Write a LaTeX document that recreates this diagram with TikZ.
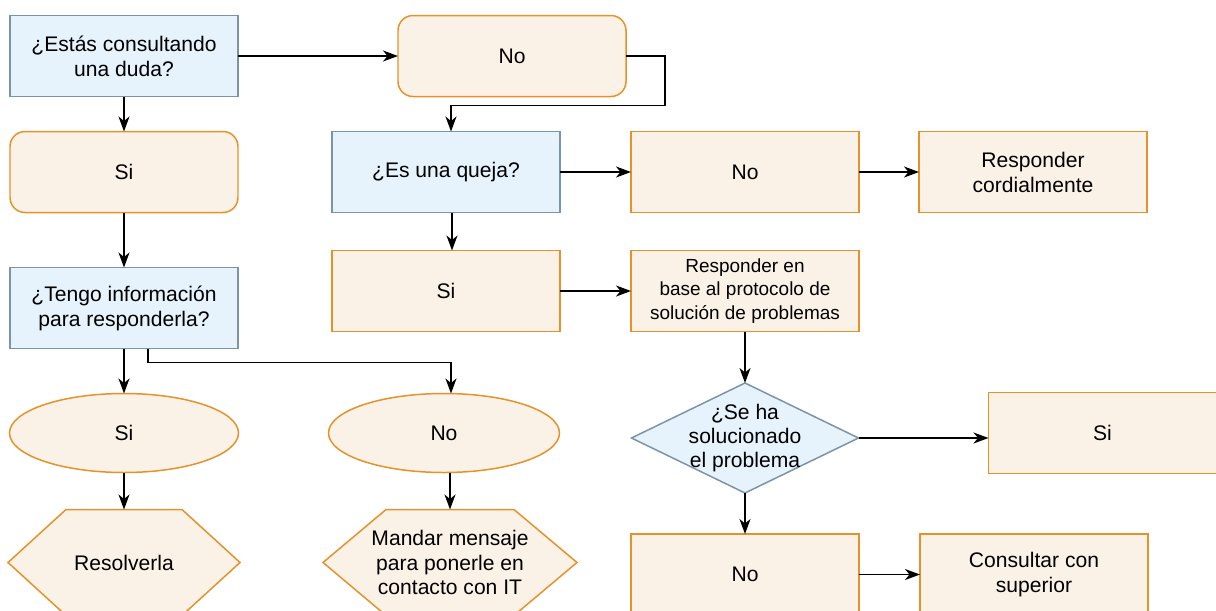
\documentclass[tikz,border=0pt]{standalone}
\usepackage{fontspec}
\setmainfont{Liberation Sans}
\usepackage{xcolor}
\usetikzlibrary{shapes.geometric, arrows.meta, positioning, calc, backgrounds}
\definecolor{askfill}{HTML}{E6F3FC}
\definecolor{askline}{HTML}{7C93A8}
\definecolor{ansfill}{HTML}{FBF2E7}
\definecolor{ansline}{HTML}{E6922A}
\tikzset{
    question/.style={
        rectangle,
        draw=askline,
        line width=0.85pt,
        fill=askfill,
        outer sep=0pt,
        minimum width=4.56cm,
        minimum height=1.62cm,
        align=center,
        font=\fontsize{12}{14.2}\selectfont
    },
    answer/.style={
        rectangle,
        draw=ansline,
        line width=0.85pt,
        fill=ansfill,
        outer sep=0pt,
        minimum width=4.56cm,
        minimum height=1.62cm,
        align=center,
        font=\fontsize{12}{14.2}\selectfont
    },
    roundanswer/.style={
        answer,
        rounded corners=0.3cm
    },
    oval/.style={
        ellipse,
        draw=ansline,
        line width=0.85pt,
        fill=ansfill,
        outer sep=0pt,
        minimum width=4.58cm,
        minimum height=1.58cm,
        font=\fontsize{12}{14.2}\selectfont
    },
    decision/.style={
        diamond,
        draw=askline,
        line width=0.85pt,
        fill=askfill,
        outer sep=0pt,
        minimum width=4.54cm,
        minimum height=2.2cm,
        inner sep=0pt
    },
    action/.style={
        rectangle,
        minimum height=2.12cm,
        outer sep=0pt,
        align=center,
        font=\fontsize{12}{14.2}\selectfont
    },
    hexline/.style={
        draw=ansline,
        line width=0.85pt,
        fill=ansfill
    },
    wire/.style={
        draw=black,
        line width=0.9pt,
        -{Stealth[length=3mm,width=2.2mm,inset=0.9mm]}
    }
}
\begin{document}
\begin{tikzpicture}[node distance=0.7cm]
\useasboundingbox (0,0) rectangle (24.32,-12.2);

\node[question] (q1) at (2.48,-1.12) {¿Estás consultando\\una duda?};
\node[roundanswer, right=3.2cm of q1] (no1) {No};
\node[roundanswer, below=0.7cm of q1] (si1) {Si};
\node[question, below=1.1cm of si1] (q3) {¿Tengo información\\para responderla?};

\node[question, right=1.88cm of si1] (q2) {¿Es una queja?};
\node[answer, right=1.42cm of q2] (no2) {No};
\node[answer, right=1.2cm of no2] (cord) {Responder\\cordialmente};
\node[answer, below=0.76cm of q2] (si2) {Si};
\node[answer, right=1.42cm of si2, font=\fontsize{10.8}{13.6}\selectfont] (proto) {Responder en\\base al protocolo de\\solución de problemas};

\node[decision, below=1.03cm of proto] (dia) {};
\node[align=center, font=\fontsize{12}{13.4}\selectfont] at (dia) {¿Se ha\\solucionado\\el problema};
\node[answer, right=2.6cm of dia, yshift=0.1cm] (si3) {Si};
\node[answer, below=0.82cm of dia] (no3) {No};
\node[answer, right=1.22cm of no3] (sup) {Consultar con\\superior};

\node[oval, below=0.9cm of q3] (ell1) {Si};
\node[oval, right=1.8cm of ell1, minimum width=4.62cm] (ell2) {No};
\node[action, below=0.74cm of ell1, minimum width=4.64cm] (hex1) {Resolverla};
\node[action, below=0.74cm of ell2, xshift=0.12cm, minimum width=5.08cm] (hex2) {Mandar mensaje\\para ponerle en\\contacto con IT};

% hexagon outlines behind the text
\begin{scope}[on background layer]
\draw[hexline] ([xshift=1.16cm]hex1.north west) -- ([xshift=-1.16cm]hex1.north east) -- (hex1.east) -- ([xshift=-1.16cm]hex1.south east) -- ([xshift=1.16cm]hex1.south west) -- (hex1.west) -- cycle;
\draw[hexline] ([xshift=1.26cm]hex2.north west) -- ([xshift=-1.26cm]hex2.north east) -- (hex2.east) -- ([xshift=-1.26cm]hex2.south east) -- ([xshift=1.26cm]hex2.south west) -- (hex2.west) -- cycle;
\end{scope}

\draw[wire] (q1.east) -- (no1.west);
\draw[wire] (no1.east) -- ++(0.78,0) |- ([xshift=0.1cm,yshift=0.52cm]q2.north) -- ([xshift=0.1cm]q2.north);
\draw[wire] (q1) -- (si1);
\draw[wire] (si1) -- (q3);

\draw[wire] (q2) -- (no2);
\draw[wire] (no2) -- (cord);
\draw[wire] ([xshift=0.12cm]q2.south) -- ([xshift=0.12cm]si2.north);
\draw[wire] (si2) -- (proto);
\draw[wire] (proto) -- (dia);
\draw[wire] (dia.east) -- (dia.east -| si3.west);
\draw[wire] (dia) -- (no3);
\draw[wire] (no3) -- (sup);

\draw[wire] (q3) -- (ell1);
\draw[wire] ([xshift=0.48cm]q3.south) -- ++(0,-0.28) -| ([xshift=0.14cm]ell2.north);
\draw[wire] (ell1) -- (hex1);
\draw[wire] ([xshift=0.12cm]ell2.south) -- (hex2.north);

\end{tikzpicture}
\end{document}
